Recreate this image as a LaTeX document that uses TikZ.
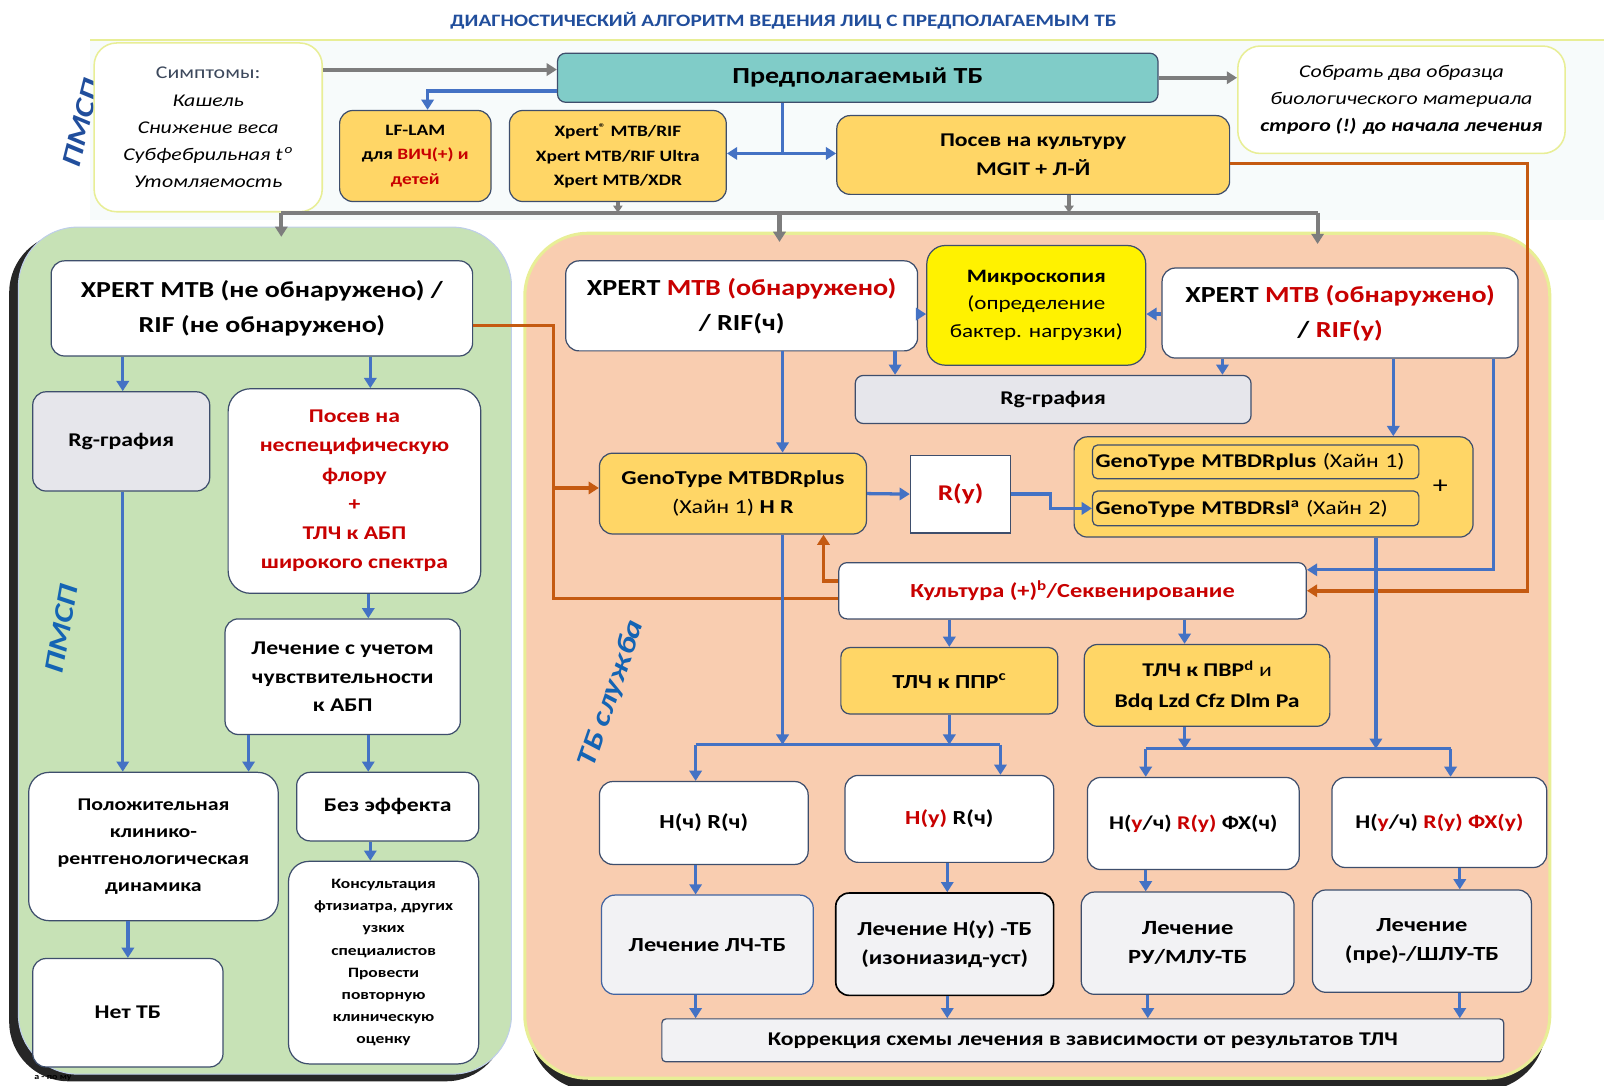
\documentclass[tikz,border=0pt]{standalone}
\usepackage{fontspec}
\usepackage{graphicx}
\setmainfont{Carlito}[FakeStretch=1.22]
\usetikzlibrary{calc,arrows.meta}

\definecolor{tbblue}{RGB}{68,114,196}
\definecolor{tbgray}{RGB}{125,125,125}
\definecolor{tborange}{RGB}{197,90,17}
\definecolor{tbred}{RGB}{200,0,0}
\definecolor{tbgold}{RGB}{255,214,102}
\definecolor{tbteal}{RGB}{128,204,200}
\definecolor{tbgreen}{RGB}{199,226,182}
\definecolor{tbpeach}{RGB}{249,205,176}
\definecolor{tbline}{RGB}{62,78,108}
\definecolor{tbtitle}{RGB}{33,78,156}
\definecolor{tblabel}{RGB}{20,100,180}
\definecolor{tblight}{RGB}{230,230,235}
\definecolor{tbpale}{RGB}{242,242,244}
\definecolor{tbsymp}{RGB}{60,72,92}
\definecolor{tbband}{RGB}{247,251,251}
\definecolor{tbglow}{RGB}{232,238,150}

\newcommand\fsz[2]{\fontsize{#1}{#2}\selectfont}
\newcommand\rd[1]{\textcolor{tbred}{#1}}

\begin{document}
\begin{tikzpicture}[x=1pt,y=-1pt,
    box/.style={draw=tbline,line width=1.2pt,rounded corners=13pt,align=center,inner sep=2pt},
    goldbox/.style={box,fill=tbgold},
    whitebox/.style={box,fill=white},
    graybox/.style={box,fill=tblight},
    palebox/.style={box,fill=tbpale},
    softbox/.style={box,fill=white,draw=tbglow,line width=1.5pt,rounded corners=22pt},
    panel/.style={rounded corners=58pt,inner sep=0pt},
    bline/.style={draw=tbblue,line width=3.2pt},
    barrow/.style={bline,-{Triangle[length=10pt,width=12pt]}},
    gline/.style={draw=tbgray,line width=4pt},
    garrow/.style={gline,-{Triangle[length=10pt,width=12pt]}},
    oline/.style={draw=tborange,line width=3.5pt},
    oarrow/.style={oline,-{Triangle[length=10pt,width=12pt]}},
    sidelabel/.style={font=\bfseries\itshape\fsz{27}{27},text=tblabel}
  ]
  \useasboundingbox (0,0) rectangle (1568,1061);

  % top band and title
  \fill[tbband] (88,38) rectangle (1568,215);
  \draw[tbglow,line width=2pt] (88,39) -- (1568,39);
  \node[font=\bfseries\fsz{17}{18},text=tbtitle] (title) at (766,20)
    {ДИАГНОСТИЧЕСКИЙ АЛГОРИТМ ВЕДЕНИЯ ЛИЦ С ПРЕДПОЛАГАЕМЫМ ТБ};
  \node[sidelabel,text=tbtitle,rotate=76] (lblTop) at (80,120) {ПМСП};

  % panels
  \fill[black!85,rounded corners=58pt] (9,228) rectangle (494,1057);
  \node[panel,fill=tbgreen,draw=tbblue!35,line width=1pt,minimum width=482,minimum height=828] (pmsp) at (259,636) {};
  \fill[black!85,rounded corners=62pt] (517,240) rectangle (1511,1066);
  \node[panel,rounded corners=62pt,fill=tbpeach,draw=tbglow,line width=3pt,minimum width=1002,minimum height=826] (tbs) at (1014,641) {};
  \node[sidelabel,rotate=80] (lblPmsp) at (60,615) {ПМСП};
  \node[sidelabel,rotate=71] (lblTbs) at (598,678) {ТБ служба};
  \node[font=\bfseries\fsz{8}{9},anchor=west] (foot) at (30,1054) {а - по му};

  % top row
  \node[softbox,minimum width=223,minimum height=165,font=\itshape\fsz{17.5}{26.5}] (symp) at (203.5,124.5)
    {{\upshape\color{tbsymp}Симптомы:}\\Кашель\\Снижение веса\\Субфебрильная t\textsuperscript{\,o}\\Утомляемость};
  \node[box,fill=tbteal,rounded corners=8pt,minimum width=587,minimum height=48,font=\bfseries\fsz{22.5}{26}] (suspect) at (838.5,76) {Предполагаемый ТБ};
  \node[softbox,minimum width=320,minimum height=105,font=\itshape\fsz{17.5}{26.5}] (collect) at (1370,97.5)
    {Собрать два образца\\биологического материала\\{\bfseries строго (!) до начала лечения}};
  \node[goldbox,minimum width=148,minimum height=89,font=\bfseries\fsz{15.5}{24}] (lflam) at (406,152.5)
    {LF-LAM\\для \rd{ВИЧ(+) и}\\\rd{детей}};
  \node[goldbox,minimum width=212,minimum height=89,font=\bfseries\fsz{15.5}{24}] (xpert) at (604,152.5)
    {Xpert\textsuperscript{®} MTB/RIF\\Xpert MTB/RIF Ultra\\Xpert MTB/XDR};
  \node[goldbox,minimum width=384,minimum height=77,font=\bfseries\fsz{19}{28}] (culture) at (1010,151.5)
    {Посев на культуру\\MGIT + Л-Й};

  % green panel
  \node[whitebox,minimum width=412,minimum height=93,font=\bfseries\fsz{22.4}{34}] (neg) at (256,301.5)
    {XPERT MTB (не обнаружено) /\\RIF (не обнаружено)};
  \node[graybox,minimum width=173,minimum height=97,font=\bfseries\fsz{19}{28}] (rgL) at (118.5,431.5) {Rg-графия};
  \node[whitebox,rounded corners=22pt,minimum width=247,minimum height=200,font=\bfseries\fsz{19}{28.6},text=tbred] (flora) at (346.5,480)
    {Посев на\\неспецифическую\\флору\\+\\ТЛЧ к АБП\\широкого спектра};
  \node[whitebox,minimum width=230,minimum height=113,font=\bfseries\fsz{19}{28}] (abp) at (335,661.5)
    {Лечение с учетом\\чувствительности\\к АБП};
  \node[whitebox,rounded corners=20pt,minimum width=244,minimum height=145,font=\bfseries\fsz{17.5}{26.5}] (pos) at (150,827.5)
    {Положительная\\клинико-\\рентгенологическая\\динамика};
  \node[whitebox,minimum width=178,minimum height=67,font=\bfseries\fsz{19}{24}] (noeff) at (379,788.5) {Без эффекта};
  \node[whitebox,rounded corners=20pt,minimum width=186,minimum height=198,font=\bfseries\fsz{14}{21.7}] (consult) at (375,941)
    {Консультация\\фтизиатра, других\\узких\\специалистов\\Провести\\повторную\\клиническую\\оценку};
  \node[whitebox,minimum width=186,minimum height=106,font=\bfseries\fsz{19}{24}] (notb) at (125,990) {Нет ТБ};

  % orange panel
  \node[whitebox,minimum width=344,minimum height=88,font=\bfseries\fsz{22.5}{34}] (posS) at (725,299)
    {XPERT \rd{MTB (обнаружено)}\\/ RIF(ч)};
  \node[box,fill=yellow,rounded corners=18pt,minimum width=214,minimum height=117,font=\fsz{18.5}{27}] (micro) at (1013,298.5)
    {{\bfseries Микроскопия}\\(определение\\бактер. нагрузки)};
  \node[whitebox,minimum width=348,minimum height=88,font=\bfseries\fsz{22.5}{34}] (posR) at (1310,306)
    {XPERT \rd{MTB (обнаружено)}\\/ \rd{RIF(у)}};
  \node[graybox,rounded corners=8pt,minimum width=387,minimum height=47,font=\bfseries\fsz{19}{24}] (rgR) at (1029.5,390.5) {Rg-графия};
  \node[goldbox,minimum width=261,minimum height=79,font=\bfseries\fsz{19.3}{28}] (geno) at (716.5,482.5)
    {GenoType MTBDRplus\\{\mdseries (Хайн 1)} H R};
  \node[whitebox,sharp corners,minimum width=98,minimum height=76,font=\bfseries\fsz{22}{26},text=tbred] (rres) at (939,483) {R(у)};
  \node[goldbox,minimum width=390,minimum height=98] (genoG) at (1245,476) {};
  \node[goldbox,rounded corners=5pt,minimum width=319,minimum height=33,text width=313,align=left,font=\bfseries\fsz{19}{22}] (genoA) at (1227.5,451.5)
    {GenoType MTBDRplus {\mdseries (Хайн 1)}};
  \node[goldbox,rounded corners=5pt,minimum width=319,minimum height=34,text width=313,align=left,font=\bfseries\fsz{19}{22}] (genoB) at (1227.5,497)
    {GenoType MTBDRsl\textsuperscript{a} {\mdseries (Хайн 2)}};
  \node[font=\fsz{24}{24}] (plus) at (1408,476) {+};
  \node[whitebox,rounded corners=8pt,minimum width=457,minimum height=55,font=\bfseries\fsz{19.5}{24},text=tbred] (cult) at (1048.5,577.5)
    {Культура (+)\textsuperscript{b}/Секвенирование};
  \node[goldbox,rounded corners=9pt,minimum width=212,minimum height=65,font=\bfseries\fsz{19.5}{24}] (ppr) at (928,665.5)
    {ТЛЧ к ППР\textsuperscript{c}};
  \node[goldbox,minimum width=240,minimum height=80,font=\bfseries\fsz{19}{30}] (pvr) at (1180,670)
    {ТЛЧ к ПВР\textsuperscript{d} {\mdseries и}\\Bdq Lzd Cfz Dlm Pa};
  \node[whitebox,minimum width=204,minimum height=81,font=\bfseries\fsz{19.5}{24}] (hs) at (688,804.5) {H(ч) R(ч)};
  \node[whitebox,minimum width=204,minimum height=85,font=\bfseries\fsz{19.5}{24}] (hr) at (928,800.5) {\rd{H(у)} R(ч)};
  \node[whitebox,minimum width=207,minimum height=90,font=\bfseries\fsz{19}{24}] (hrf) at (1166.5,805) {H(\rd{у}/ч) \rd{R(у)} ФХ(ч)};
  \node[whitebox,minimum width=210,minimum height=88,font=\bfseries\fsz{19}{24}] (hrfr) at (1407,804) {H(\rd{у}/ч) \rd{R(у) ФХ(у)}};
  \node[palebox,draw=tbblue!60!tbline,minimum width=207,minimum height=97,font=\bfseries\fsz{19.5}{28}] (trS) at (691.5,923.5) {Лечение ЛЧ-ТБ};
  \node[palebox,draw=black,line width=1.6pt,minimum width=213,minimum height=100,font=\bfseries\fsz{19.4}{28}] (trH) at (923.5,923)
    {Лечение H(у) -ТБ\\(изониазид-уст)};
  \node[palebox,minimum width=208,minimum height=100,font=\bfseries\fsz{19.7}{28}] (trM) at (1161,922) {Лечение\\РУ/МЛУ-ТБ};
  \node[palebox,minimum width=214,minimum height=100,font=\bfseries\fsz{19.6}{28}] (trX) at (1390,920) {Лечение\\(пре)-/ШЛУ-ТБ};
  \node[palebox,rounded corners=4pt,minimum width=823,minimum height=42,font=\bfseries\fsz{19}{22}] (corr) at (1058.5,1017)
    {Коррекция схемы лечения в зависимости от результатов ТЛЧ};

  % top connectors
  \draw[garrow] (symp.east |- 0,68) -- (suspect.west |- 0,68);
  \draw[garrow] (suspect.east) -- (collect.west |- suspect.east);
  \draw[barrow] (suspect.west |- 0,89) -| (lflam.north -| 418,0);
  \coordinate (split) at (765,150);
  \draw[bline] (suspect.south -| split) -- (split);
  \draw[barrow] (split) -- (xpert.east |- split);
  \draw[barrow] (split) -- (culture.west |- split);
  \coordinate (busW) at (275,208);
  \coordinate (busM) at (762,208);
  \coordinate (busE) at (1288,208);
  \draw[gline] (busW) -- (busE);
  \draw[gline,-{Triangle[length=7pt,width=9pt]}] (xpert.south) -- (xpert.south |- busW);
  \draw[gline,-{Triangle[length=7pt,width=9pt]}] (culture.south -| 1045,0) -- (busW -| 1045,0);
  \draw[garrow] (busW) -- ($(pmsp.north -| busW)+(0,10)$);
  \draw[garrow] (busM) -- ($(tbs.north -| busM)+(0,10)$);
  \draw[garrow] (busE) -- ($(tbs.north -| busE)+(0,12)$);
  \draw[oarrow] (culture.east |- 0,160) -- (1493,160) |- (cult.east);

  % green panel connectors
  \draw[barrow] (neg.south -| 120,0) -- (rgL.north -| 120,0);
  \draw[barrow] (neg.south -| 362,0) -- (flora.north -| 362,0);
  \draw[barrow] (rgL.south -| 120,0) -- (pos.north -| 120,0);
  \draw[barrow] (flora.south -| 360,0) -- (abp.north -| 360,0);
  \draw[barrow] (abp.south -| 243,0) -- (pos.north -| 243,0);
  \draw[barrow] (abp.south -| 360,0) -- (noeff.north -| 360,0);
  \draw[barrow] (noeff.south -| 362,0) -- (consult.north -| 362,0);
  \draw[barrow] (pos.south -| notb.north) -- (notb.north);

  % orange connectors
  \draw[oline] (neg.east |- 0,318) -- (541,318) |- (cult.west |- 0,585);
  \draw[oarrow] (541,477) -- (geno.west |- 0,477);
  \draw[oarrow] (cult.west |- 0,568) -| (geno.south -| 805,0);

  % tb service connectors
  \draw[barrow] (posS.east |- 0,307) -- (micro.west |- 0,307);
  \draw[barrow] (posR.west |- 0,307) -- (micro.east |- 0,307);
  \draw[barrow] (posS.south -| 875,0) -- (rgR.north -| 875,0);
  \draw[barrow] (posR.south -| 1195,0) -- (rgR.north -| 1195,0);
  \draw[barrow] (posS.south -| 765,0) -- (geno.north -| 765,0);
  \draw[barrow] (posR.south -| 1362,0) -- (genoG.north -| 1362,0);
  \draw[barrow] (posR.south -| 1460,0) -- (1460,557) -- (cult.east |- 0,557);
  \draw[barrow] (geno.east) -- (rres.west);
  \draw[barrow] (rres.east) -- (1027,483) |- (genoB.west);
  \coordinate (forkL) at (680,728);
  \coordinate (forkR) at (978,728);
  \draw[barrow] (geno.south -| 765,0) -- (forkL -| 765,0);
  \draw[barrow] (cult.south -| ppr.north) -- (ppr.north);
  \draw[barrow] (cult.south -| 1158,0) -- (pvr.north -| 1158,0);
  \draw[barrow] (ppr.south) -- (forkL -| ppr.south);
  \draw[bline] (forkL) -- (forkR);
  \draw[barrow] (forkL) -- (hs.north -| forkL);
  \draw[barrow] (forkR) -- (hr.north -| forkR);
  \coordinate (fork2L) at (1120,732);
  \coordinate (fork2R) at (1418,732);
  \draw[barrow] (pvr.south -| 1158,0) -- (fork2L -| 1158,0);
  \draw[barrow] (genoG.south -| 1345,0) -- (fork2L -| 1345,0);
  \draw[bline] (fork2L) -- (fork2R);
  \draw[barrow] (fork2L) -- (hrf.north -| fork2L);
  \draw[barrow] (fork2R) -- (hrfr.north -| fork2R);
  \draw[barrow] (hs.south -| 680,0) -- (trS.north -| 680,0);
  \draw[barrow] (hr.south -| 926,0) -- (trH.north -| 926,0);
  \draw[barrow] (hrf.south -| 1120,0) -- (trM.north -| 1120,0);
  \draw[barrow] (hrfr.south -| 1427,0) -- (trX.north -| 1427,0);
  \draw[barrow] (trS.south -| 680,0) -- (corr.north -| 680,0);
  \draw[barrow] (trH.south -| 926,0) -- (corr.north -| 926,0);
  \draw[barrow] (trM.south -| 1122,0) -- (corr.north -| 1122,0);
  \draw[barrow] (trX.south -| 1427,0) -- (corr.north -| 1427,0);
\end{tikzpicture}
\end{document}
